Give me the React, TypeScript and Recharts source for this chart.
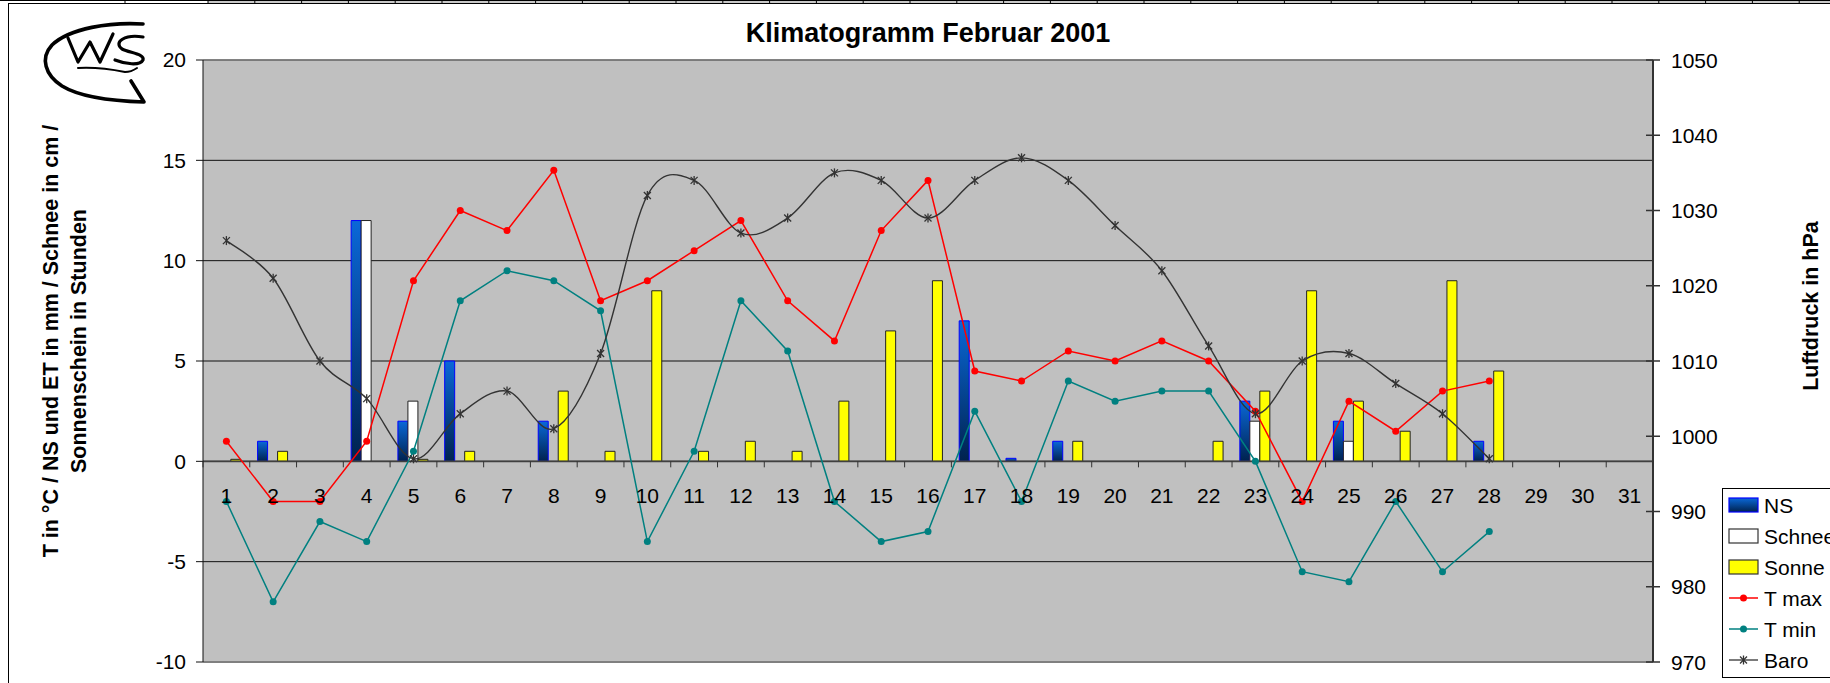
import React from "react";
import {
  ComposedChart,
  Bar,
  Line,
  XAxis,
  YAxis,
  CartesianGrid,
  ReferenceLine,
  Legend,
} from "recharts";

// --- data (Februar 2001) ---
const days = [
  "1", "2", "3", "4", "5", "6", "7", "8", "9", "10", "11", "12", "13", "14", "15", "16",
  "17", "18", "19", "20", "21", "22", "23", "24", "25", "26", "27", "28", "29", "30", "31",
];
const ns = [null, 1, null, 12, 2, 5, null, 2, null, null, null, null, null, null, null, null, 7, 0.15, 1, null, null, null, 3, null, 2, null, null, 1];
const schnee = [null, null, null, 12, 3, null, null, null, null, null, null, null, null, null, null, null, null, null, null, null, null, null, 2, null, 1, null, null, null];
const sonne = [0.1, 0.5, null, null, 0.1, 0.5, null, 3.5, 0.5, 8.5, 0.5, 1, 0.5, 3, 6.5, 9, null, null, 1, null, null, 1, 3.5, 8.5, 3, 1.5, 9, 4.5];
const tMax = [1, -2, -2, 1, 9, 12.5, 11.5, 14.5, 8, 9, 10.5, 12, 8, 6, 11.5, 14, 4.5, 4, 5.5, 5, 6, 5, 2.5, -2, 3, 1.5, 3.5, 4];
const tMin = [-2, -7, -3, -4, 0.5, 8, 9.5, 9, 7.5, -4, 0.5, 8, 5.5, -2, -4, -3.5, 2.5, -2, 4, 3, 3.5, 3.5, 0, -5.5, -6, -2, -5.5, -3.5];
const baro = [1026, 1021, 1010, 1005, 997, 1003, 1006, 1001, 1011, 1032, 1034, 1027, 1029, 1035, 1034, 1029, 1034, 1037, 1034, 1028, 1022, 1012, 1003, 1010, 1011, 1007, 1003, 997];

const leftTicks = [-10, -5, 0, 5, 10, 15, 20];
const rightTicks = [970, 980, 990, 1000, 1010, 1020, 1030, 1040, 1050];

const data = days.map((d, i) => ({
  day: d,
  ns: ns[i] ?? null,
  schnee: schnee[i] ?? null,
  sonne: sonne[i] ?? null,
  tmax: tMax[i] ?? null,
  tmin: tMin[i] ?? null,
  baro: baro[i] ?? null,
}));

// --- layout ---
const W = 1830;
const H = 683;
const PLOT_LEFT = 203;
const PLOT_RIGHT = 1653;
const PLOT_TOP = 60;
const PLOT_H = 602;
const BAND = (PLOT_RIGHT - PLOT_LEFT) / days.length;
const ZERO_Y = PLOT_TOP + PLOT_H * (20 / 30);
const FONT = "'Liberation Sans', Arial, sans-serif";

const RED = "#FF0000";
const TEAL = "#008080";
const BARO = "#333333";

// Excel-like smoothed line (Catmull-Rom as cubic bezier)
const smoothCurve = (context: any) => {
  let pts: number[][] = [];
  return {
    areaStart() {},
    areaEnd() {},
    lineStart() {
      pts = [];
    },
    point(x: number, y: number) {
      pts.push([+x, +y]);
    },
    lineEnd() {
      if (!pts.length) return;
      context.moveTo(pts[0][0], pts[0][1]);
      for (let i = 0; i < pts.length - 1; i++) {
        const p0 = pts[i - 1] || pts[i];
        const p1 = pts[i];
        const p2 = pts[i + 1];
        const p3 = pts[i + 2] || p2;
        context.bezierCurveTo(
          p1[0] + (p2[0] - p0[0]) / 6,
          p1[1] + (p2[1] - p0[1]) / 6,
          p2[0] - (p3[0] - p1[0]) / 6,
          p2[1] - (p3[1] - p1[1]) / 6,
          p2[0],
          p2[1]
        );
      }
    },
  };
};

const StarDot = (props: any) => {
  const { cx, cy, index } = props;
  if (cx == null || cy == null || Number.isNaN(cy)) return <g key={`s-${index}`} />;
  return (
    <g key={`s-${index}`} stroke={BARO} strokeWidth={1.3}>
      <line x1={cx - 3.5} y1={cy - 3.5} x2={cx + 3.5} y2={cy + 3.5} />
      <line x1={cx - 3.5} y1={cy + 3.5} x2={cx + 3.5} y2={cy - 3.5} />
      <line x1={cx} y1={cy - 4.5} x2={cx} y2={cy + 4.5} />
    </g>
  );
};

function DayTick({ x, payload, index }: any) {
  return (
    <g>
      <line x1={x - BAND / 2} x2={x - BAND / 2} y1={ZERO_Y} y2={ZERO_Y + 6} stroke="#333" />
      {index === days.length - 1 && (
        <line x1={x + BAND / 2} x2={x + BAND / 2} y1={ZERO_Y} y2={ZERO_Y + 6} stroke="#333" />
      )}
      <text x={x} y={ZERO_Y + 42} textAnchor="middle" fontSize={21} fontFamily={FONT} fill="#000">
        {payload.value}
      </text>
    </g>
  );
}

function BaroTick({ x, y, payload }: any) {
  const ax = PLOT_RIGHT;
  return (
    <g>
      <line x1={ax - 7} x2={ax + 7} y1={y} y2={y} stroke="#333" strokeWidth={1.5} />
      <text x={x} y={y} dy="0.36em" textAnchor="start" fontSize={21} fontFamily={FONT} fill="#000">
        {payload.value}
      </text>
    </g>
  );
}

const legendItems = [
  { name: "NS", kind: "bar", fill: "url(#nsLegendGrad)", stroke: "#0000FF" },
  { name: "Schnee", kind: "bar", fill: "#FFFFFF", stroke: "#333" },
  { name: "Sonne", kind: "bar", fill: "#FFFF00", stroke: "#333" },
  { name: "T max", kind: "dot", color: RED },
  { name: "T min", kind: "dot", color: TEAL },
  { name: "Baro", kind: "star", color: BARO },
];

function LegendBox() {
  return (
    <svg width={130} height={191} style={{ display: "block" }}>
      <defs>
        <linearGradient id="nsLegendGrad" x1="0" y1="0" x2="0" y2="1">
          <stop offset="0%" stopColor="#0A68D8" />
          <stop offset="100%" stopColor="#00224E" />
        </linearGradient>
      </defs>
      <rect x={0.5} y={0.5} width={140} height={189} fill="#fff" stroke="#000" />
      {legendItems.map((it, i) => {
        const cy = 17 + i * 31;
        return (
          <g key={it.name}>
            {it.kind === "bar" && (
              <rect x={7} y={cy - 7} width={29} height={14} fill={it.fill} stroke={it.stroke} strokeWidth={1.2} />
            )}
            {it.kind === "dot" && (
              <g>
                <line x1={7} x2={36} y1={cy} y2={cy} stroke={it.color} strokeWidth={1.5} />
                <circle cx={21.5} cy={cy} r={3.5} fill={it.color} />
              </g>
            )}
            {it.kind === "star" && (
              <g>
                <line x1={7} x2={36} y1={cy} y2={cy} stroke={it.color} strokeWidth={1.3} />
                <StarDot cx={21.5} cy={cy} index={i} />
              </g>
            )}
            <text x={42} y={cy} dy="0.36em" fontSize={21} fontFamily={FONT} fill="#000">
              {it.name}
            </text>
          </g>
        );
      })}
    </svg>
  );
}

function Decorations() {
  const cells: number[] = [];
  for (let x = 208; x < W; x += 46.8) cells.push(x);
  return (
    <svg
      width={W}
      height={H}
      style={{ position: "absolute", left: 0, top: 0, pointerEvents: "none" }}
    >
      {/* spreadsheet strip + frame */}
      <rect x={208} y={0} width={W - 208} height={3} fill="#C8C8C8" />
      <line x1={0} x2={W} y1={0.5} y2={0.5} stroke="#000" />
      {[125, ...cells].map((x) => (
        <line key={x} x1={x} x2={x} y1={0} y2={3} stroke="#000" />
      ))}
      <line x1={8} x2={W} y1={3.5} y2={3.5} stroke="#000" />
      <line x1={8.5} x2={8.5} y1={3} y2={H} stroke="#000" />

      {/* logo */}
      <g fill="none" stroke="#000" strokeLinecap="round" strokeLinejoin="round">
        <path d="M143,24 C110,22 70,28 52,45 C40,58 45,75 62,86 C80,97 110,101 144,102 L131,81" strokeWidth={3.6} />
        <path d="M68,38 L78,62 L90,42 L100,62 L113,34" strokeWidth={3.2} />
        <path d="M143,37 C125,34 113,42 122,49 C130,53 145,54 143,60 C140,66 125,64 115,60" strokeWidth={3.2} />
        <path d="M78,68 C95,67 115,70 125,72 C130,72 134,70 137,68" strokeWidth={2} />
      </g>

      {/* titles */}
      <text x={928} y={42} textAnchor="middle" fontSize={27} fontWeight="bold" fontFamily={FONT} fill="#000">
        Klimatogramm Februar 2001
      </text>
      <g fontSize={21.5} fontWeight="bold" fontFamily={FONT} fill="#000" textAnchor="middle">
        <text transform="translate(58,341) rotate(-90)">T in °C / NS und ET in mm / Schnee in cm /</text>
        <text transform="translate(86,341) rotate(-90)">Sonnenschein in Stunden</text>
        <text transform="translate(1818,306) rotate(-90)">Luftdruck in hPa</text>
      </g>
    </svg>
  );
}

export default function App() {
  return (
    <div
      style={{
        position: "absolute",
        left: 0,
        top: 0,
        width: W,
        height: H,
        overflow: "hidden",
        background: "#fff",
      }}
    >
      <ComposedChart
        width={W}
        height={H}
        data={data}
        margin={{ top: PLOT_TOP, right: 107, bottom: 0, left: 143 }}
        barCategoryGap="16.7%"
        barGap={0}
      >
        <defs>
          <linearGradient id="nsGrad" x1="0" y1="0" x2="0" y2="1">
            <stop offset="0%" stopColor="#0A68D8" />
            <stop offset="100%" stopColor="#00224E" />
          </linearGradient>
        </defs>
        <CartesianGrid yAxisId="left" vertical={false} fill="#C0C0C0" stroke="#111" />
        <XAxis
          dataKey="day"
          height={21}
          interval={0}
          axisLine={false}
          tickLine={false}
          tick={<DayTick />}
        />
        <YAxis
          yAxisId="left"
          width={60}
          domain={[-10, 20]}
          ticks={leftTicks}
          allowDataOverflow
          tickSize={7}
          tickMargin={10}
          axisLine={{ stroke: "#111" }}
          tickLine={{ stroke: "#111" }}
          tick={{ fontSize: 21, fill: "#000", fontFamily: FONT }}
        />
        <YAxis
          yAxisId="right"
          orientation="right"
          width={70}
          domain={[970, 1050]}
          ticks={rightTicks}
          allowDataOverflow
          tickSize={7}
          tickMargin={11}
          axisLine={{ stroke: "#333", strokeWidth: 2 }}
          tickLine={false}
          tick={<BaroTick />}
        />
        <ReferenceLine yAxisId="left" y={20} stroke="#808080" strokeWidth={1.5} />
        <ReferenceLine yAxisId="left" y={-10} stroke="#808080" strokeWidth={2} />
        <ReferenceLine yAxisId="left" y={0} stroke="#404040" strokeWidth={1.6} />
        <Bar
          yAxisId="left"
          dataKey="ns"
          name="NS"
          fill="url(#nsGrad)"
          stroke="#0000FF"
          strokeWidth={1}
          isAnimationActive={false}
        />
        <Bar
          yAxisId="left"
          dataKey="schnee"
          name="Schnee"
          fill="#FFFFFF"
          stroke="#222"
          strokeWidth={1}
          isAnimationActive={false}
        />
        <Bar
          yAxisId="left"
          dataKey="sonne"
          name="Sonne"
          fill="#FFFF00"
          stroke="#222"
          strokeWidth={1}
          isAnimationActive={false}
        />
        <Line
          yAxisId="left"
          dataKey="tmax"
          name="T max"
          type="linear"
          stroke={RED}
          strokeWidth={1.5}
          dot={{ r: 3.5, fill: RED, stroke: RED, strokeWidth: 0 }}
          activeDot={false}
          isAnimationActive={false}
        />
        <Line
          yAxisId="left"
          dataKey="tmin"
          name="T min"
          type="linear"
          stroke={TEAL}
          strokeWidth={1.5}
          dot={{ r: 3.5, fill: TEAL, stroke: TEAL, strokeWidth: 0 }}
          activeDot={false}
          isAnimationActive={false}
        />
        <Line
          yAxisId="right"
          dataKey="baro"
          name="Baro"
          type={smoothCurve as any}
          stroke={BARO}
          strokeWidth={1.4}
          dot={StarDot}
          activeDot={false}
          isAnimationActive={false}
        />
        <Legend
          layout="vertical"
          align="center"
          verticalAlign="middle"
          wrapperStyle={{ left: 1722, top: 488, width: 130, height: 191 }}
          content={() => <LegendBox />}
        />
      </ComposedChart>
      <Decorations />
    </div>
  );
}
